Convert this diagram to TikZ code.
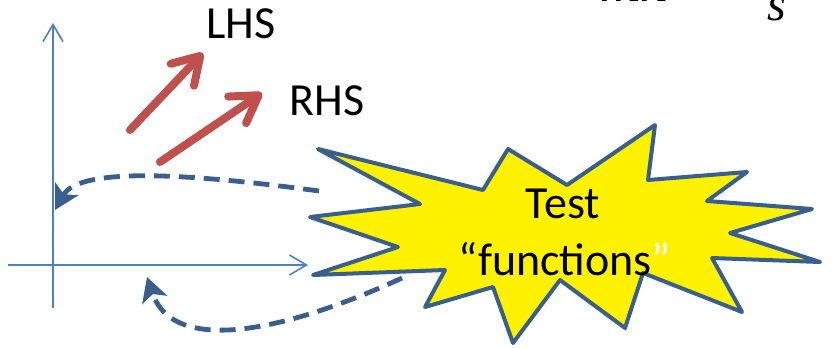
\documentclass[tikz,border=0pt]{standalone}
\usepackage{fontspec}
\setmainfont{Carlito}
\newfontfamily\mathserif{Liberation Serif}
\usepackage{tikz}
\usetikzlibrary{
  arrows.meta, % for Straight Barb and Stealth tips
  positioning}
\definecolor{axisblue}{HTML}{4F81BD}
\definecolor{liftred}{HTML}{C0504D}
\definecolor{darkblue}{HTML}{3A5F8E}
\tikzstyle{axis} = [draw=axisblue, line width=0.8pt, -{Straight Barb[length=8.5pt,width=10pt]}]
\tikzstyle{lift} = [draw=liftred, line width=4pt, line cap=round, -{Straight Barb[length=13pt,width=16pt,round]}]
\tikzstyle{back} = [draw=darkblue, line width=2.4pt, dash pattern=on 8pt off 4.5pt, -{Stealth[length=12pt,width=13pt,inset=3pt]}]
\tikzstyle{burst} = [draw=darkblue, fill=yellow, line width=2pt, line join=round]
\tikzstyle{label} = [inner sep=0pt, font=\fontsize{23}{28}\selectfont]

\begin{document}
\begin{tikzpicture}[x=0.5pt, y=-0.5pt]
\useasboundingbox (0,0) rectangle (838,348);

% axes
\coordinate (yB) at (53,308);
\coordinate (yT) at (53,23);
\coordinate (xL) at (8,265);
\coordinate (xR) at (308,265);
\draw[axis] (yB) -- (yT);
\draw[axis] (xL) -- (xR);

% LHS / RHS
\node[label, anchor=base west] (lhs) at (206,38) {LHS};
\node[label, anchor=base west] (rhs) at (289,115) {RHS};
\coordinate (lhsS) at (130,130);
\coordinate (rhsS) at (160,162);
\draw[lift] (lhsS) -- (203,53) coordinate (lhsE);
\draw[lift] (rhsS) -- (262,93) coordinate (rhsE);

% star
\draw[burst] (318,149) -- (420,204) -- (310,217) -- (398,247) -- (313,275)
  -- (445,270) -- (425,307) -- (493,287) -- (513,343) -- (560,280)
  -- (625,328) -- (643,273) -- (742,312) -- (712,258) -- (820,262)
  -- (730,233) -- (812,209) -- (707,201) -- (747,172) -- (648,180)
  -- (655,125) -- (567,185) -- (508,149) -- (483,190) -- cycle;
\node[label, anchor=base] (test) at (563,218) {Test};
\node[label, anchor=base] (functions) at (565,275) {“functions{\color{white}”}};

% dashed returns
\coordinate (up) at (319,191);
\coordinate (upE) at (55,210);
\coordinate (lo) at (402,278);
\coordinate (loE) at (147,277);
\draw[back] (up) .. controls (200,175) and (80,165) .. (upE);
\draw[back] (lo) .. controls (300,325) and (175,360) .. (loE);

% cut-off formula at the top
\node[anchor=base west, inner sep=0pt, font=\mathserif\itshape\fontsize{28}{30}\selectfont] (mn) at (600,2) {mn};
\node[anchor=base west, inner sep=0pt, font=\mathserif\itshape\fontsize{24}{26}\selectfont] (sub) at (767,20) {s};
\end{tikzpicture}
\end{document}
